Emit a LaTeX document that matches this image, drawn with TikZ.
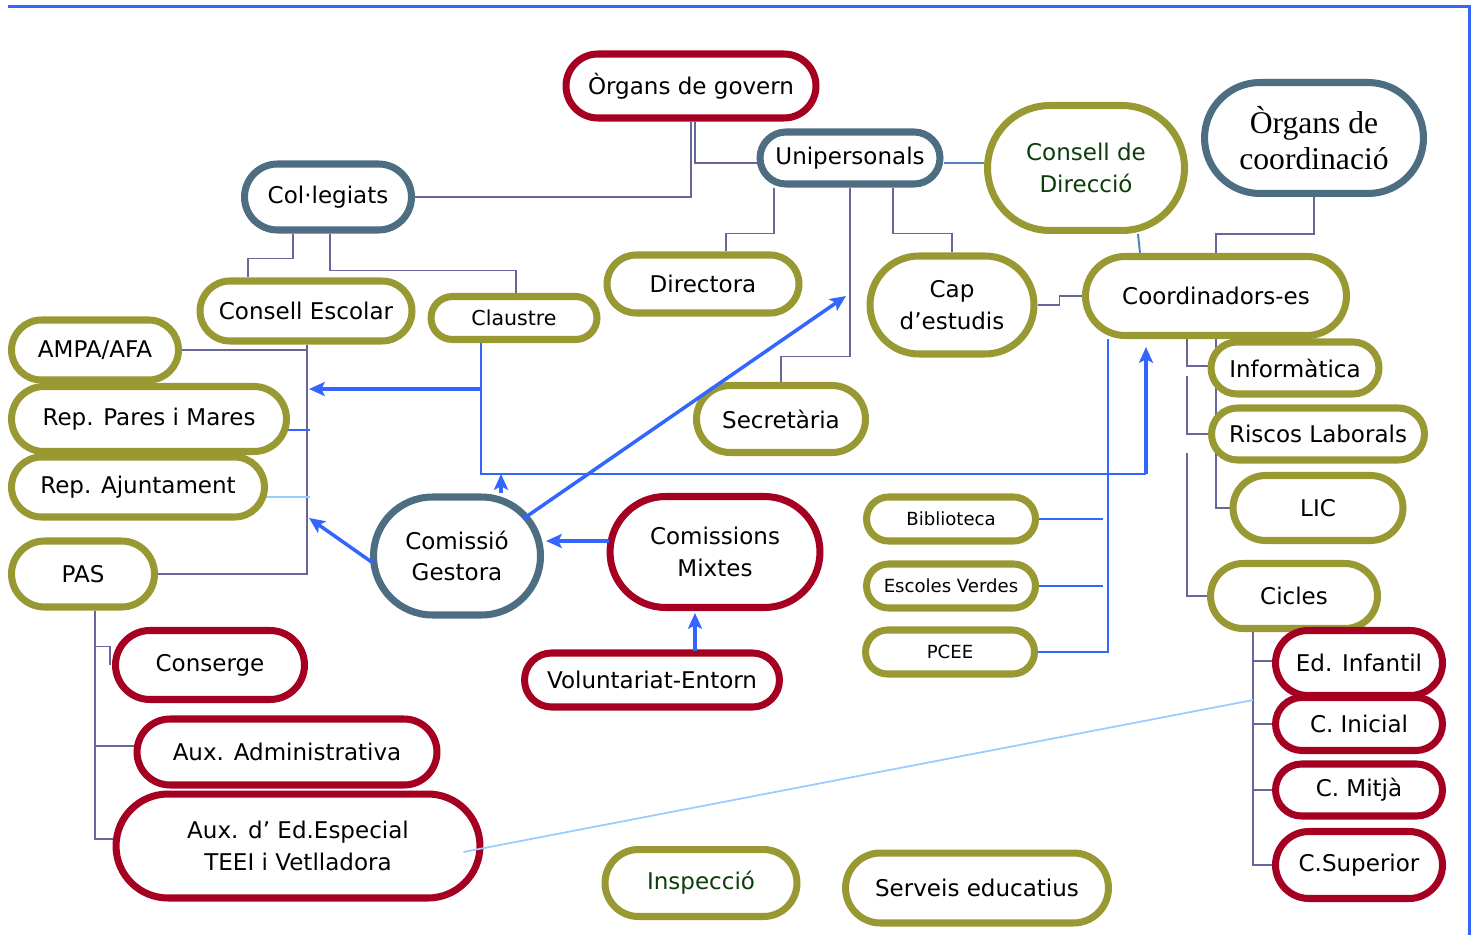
\documentclass[tikz,border=0pt]{standalone}
\usepackage{fontspec}
\setmainfont{DejaVu Sans}
\newfontfamily\serifface{Liberation Serif}
\usetikzlibrary{shapes.misc,arrows.meta,calc,backgrounds}

\definecolor{govred}{HTML}{A50021}
\definecolor{govolive}{HTML}{999933}
\definecolor{govslate}{HTML}{4D6D83}
\definecolor{linkgray}{HTML}{666699}
\definecolor{linkblue}{HTML}{3366FF}
\definecolor{linksky}{HTML}{99CCFF}
\definecolor{linksteel}{HTML}{4F81BD}
\definecolor{textgreen}{HTML}{0B3D0B}

\tikzset{
  orgbox/.style={rounded rectangle, line width=4pt, fill=white, inner sep=0pt, align=center,
    font=\fontsize{13.1}{17.8}\selectfont},
  redbox/.style={orgbox, draw=govred},
  olivebox/.style={orgbox, draw=govolive},
  slatebox/.style={orgbox, draw=govslate},
  smalltext/.style={font=\fontsize{10.3}{12}\selectfont},
  tree/.style={draw=linkgray, line width=1.1pt},
  bluelink/.style={draw=linkblue, line width=1.2pt},
  skylink/.style={draw=linksky, line width=1pt},
  steellink/.style={draw=linksteel, line width=1.1pt},
  bluearrow/.style={draw=linkblue, line width=2pt, -{Stealth[length=9pt,width=8pt,inset=2pt]}}
}

\begin{document}
\begin{tikzpicture}[x=0.02cm,y=-0.02cm]
  \useasboundingbox (0,0) rectangle (1476,935);
  \draw[linkblue, line width=1.7pt] (8,7) -- (1469,7) -- (1469,935); % frame

  % organs de govern
  \node[redbox, minimum width=5.00cm, minimum height=1.28cm] (govern) at (691,86) {Òrgans de govern};
  \node[slatebox, minimum width=3.60cm, minimum height=1.04cm] (unip) at (850,158) {Unipersonals};
  \node[slatebox, minimum width=3.34cm, minimum height=1.32cm] (colleg) at (328,197) {Col·legiats};
  \node[olivebox, minimum width=3.94cm, minimum height=2.50cm, text=textgreen] (cdir) at (1086,168) {Consell de\\Direcció};
  \node[slatebox, minimum width=4.38cm, minimum height=2.22cm, font=\serifface\fontsize{18}{20.5}\selectfont] (ocoord) at (1314,138) {Òrgans de\\coordinació};

  \node[olivebox, minimum width=4.24cm, minimum height=1.20cm] (cesc) at (306,311) {Consell Escolar};
  \node[olivebox, minimum width=3.32cm, minimum height=0.86cm, font=\fontsize{11.7}{14}\selectfont] (claus) at (514,318) {Claustre};
  \node[olivebox, minimum width=3.84cm, minimum height=1.16cm] (direc) at (703,284) {Directora};
  \node[olivebox, minimum width=3.28cm, minimum height=1.96cm] (cap) at (952,305) {Cap\\d’estudis};
  \node[olivebox, minimum width=5.22cm, minimum height=1.58cm] (coord) at (1216,296) {Coordinadors-es};
  \node[olivebox, minimum width=3.38cm, minimum height=1.34cm] (secr) at (781,419) {Secretària};

  % consell escolar
  \node[olivebox, minimum width=3.34cm, minimum height=1.20cm] (ampa) at (95,350) {AMPA/AFA};
  \node[olivebox, minimum width=5.50cm, minimum height=1.30cm] (pares) at (149,419) {Rep. Pares i Mares};
  \node[olivebox, minimum width=5.06cm, minimum height=1.20cm] (ajunt) at (138,487) {Rep. Ajuntament};
  \node[olivebox, minimum width=2.86cm, minimum height=1.32cm] (pas) at (83,574) {PAS};

  % comissions
  \node[slatebox, minimum width=3.34cm, minimum height=2.36cm] (gest) at (457,556) {Comissió\\Gestora};
  \node[redbox, minimum width=4.20cm, minimum height=2.22cm] (mixt) at (715,552) {Comissions\\Mixtes};
  \node[redbox, minimum width=5.10cm, minimum height=1.08cm] (volunt) at (652,680) {Voluntariat-Entorn};

  % coordinacio
  \node[olivebox, smalltext, minimum width=3.38cm, minimum height=0.88cm] (bibl) at (951,519) {Biblioteca};
  \node[olivebox, smalltext, minimum width=3.38cm, minimum height=0.88cm] (escol) at (951,586) {Escoles Verdes};
  \node[olivebox, smalltext, minimum width=3.38cm, minimum height=0.88cm] (pcee) at (950,652) {PCEE};
  \node[olivebox, minimum width=3.36cm, minimum height=1.04cm] (info) at (1295,368) {Informàtica};
  \node[olivebox, minimum width=4.26cm, minimum height=1.04cm] (risc) at (1318,434) {Riscos Laborals};
  \node[olivebox, minimum width=3.40cm, minimum height=1.30cm] (lic) at (1318,508) {LIC};
  \node[olivebox, minimum width=3.34cm, minimum height=1.30cm] (cicl) at (1294,596) {Cicles};
  \node[redbox, minimum width=3.34cm, minimum height=1.30cm] (edinf) at (1359,663) {Ed. Infantil};
  \node[redbox, minimum width=3.34cm, minimum height=1.06cm] (cinic) at (1359,724) {C. Inicial};
  \node[redbox, minimum width=3.34cm, minimum height=1.04cm] (cmitja) at (1359,790) {C. Mitjà};
  \node[redbox, minimum width=3.34cm, minimum height=1.34cm] (csup) at (1359,865) {C.Superior};

  % PAS
  \node[redbox, minimum width=3.78cm, minimum height=1.38cm] (conse) at (210,665) {Conserge};
  \node[redbox, minimum width=6.00cm, minimum height=1.32cm] (auxadm) at (287,752) {Aux. Administrativa};
  \node[redbox, minimum width=7.28cm, minimum height=2.08cm] (auxed) at (298,846) {Aux. d’ Ed.Especial\\TEEI i Vetlladora};

  \node[olivebox, minimum width=3.84cm, minimum height=1.34cm, text=textgreen] (insp) at (701,883) {Inspecció};
  \node[olivebox, minimum width=5.26cm, minimum height=1.40cm] (serv) at (977,888) {Serveis educatius};

  % helper points
  \coordinate (ce) at ($(cesc.south)+(1,0)$);
  \coordinate (clt) at ($(claus.south)+(-33,0)$);
  \coordinate (cl) at ($(clt)+(0,46)$);
  \coordinate (loop) at (1146,474);
  \coordinate (ct) at ($(coord.south)+(-108,0)$);
  \coordinate (cs) at ($(coord.south)+(-29,0)$);
  \coordinate (cc) at ($(cicl.south)+(-41,0)$);
  \coordinate (pt) at ($(pas.south)+(12,0)$);
  \coordinate (pr) at ($(pares.east)+(-3,11)$);
  \coordinate (aj) at ($(ajunt.east)+(-3,10)$);
  \coordinate (gu) at ($(gest.north)+(44,0)$);
  \coordinate (gd) at ($(gest.center)+(66,-37)$);
  \coordinate (gl) at ($(gest.west)+(3,7)$);
  \coordinate (diagtip) at (846,296);

  \begin{scope}[on background layer]
    \draw[tree] (govern.south) |- (colleg.east);
    \draw[tree] ($(govern.south)+(4,0)$) |- ($(unip.west)+(0,5)$);
    \draw[tree] ($(unip.south)+(-76,0)$) -- ++(0,46) -| ($(direc.north)+(23,0)$);
    \draw[tree] (unip.south) -- ++(0,169) -| (secr.north);
    \draw[tree] ($(unip.south)+(43,0)$) -- ++(0,46) -| (cap.north);
    \draw[steellink] ($(unip.east)+(0,5)$) -- ($(cdir.west)+(0,-5)$);
    \draw[steellink] ($(cdir.south)+(52,0)$) -- ($(coord.north)+(-76,0)$);
    \draw[tree] (ocoord.south) -- ++(0,37) -| (coord.north);
    \draw[tree] (cap.east) -- ++(22,0) |- (coord.west);

    \draw[tree] ($(colleg.south)+(-35,0)$) -- ++(0,25) -| ($(cesc.north)+(-58,0)$);
    \draw[tree] ($(colleg.south)+(2,0)$) -- ++(0,37) -| ($(claus.north)+(2,0)$);
    \draw[tree] (ce) |- (pas.east);
    \draw[tree] (ampa.east) -- (ampa.east -| ce);
    \draw[bluelink] (pr) -- ($(pr -| ce)+(3,0)$);
    \draw[skylink] (aj) -- ($(aj -| ce)+(3,0)$);

    \draw[bluelink] (clt) |- (loop);
    \draw[bluelink] (ct) |- (pcee.east);
    \draw[bluelink] (bibl.east) -- ($(bibl.east -| ct)+(-5,0)$);
    \draw[bluelink] (escol.east) -- ($(escol.east -| ct)+(-5,0)$);

    \draw[tree] (cs) |- ($(info.west)+(0,-2)$);
    \draw[tree] ($(cs)+(0,37)$) |- (risc.west);
    \draw[tree] ($(cs)+(0,114)$) |- (cicl.west);
    \draw[tree] (coord.south) |- (lic.west);

    \draw[tree] (cc) |- ($(edinf.west)+(0,-2)$);
    \draw[tree] (cc) |- (cinic.west);
    \draw[tree] (cc) |- (cmitja.west);
    \draw[tree] (cc) |- (csup.west);

    \draw[tree] (pt) |- ($(auxed.west)+(0,-7)$);
    \draw[tree] ($(pt)+(0,36)$) -| ($(conse.west)+(-2,0)$);
    \draw[tree] (pt) |- ($(auxadm.west)+(0,-6)$);
  \end{scope}

  \draw[skylink] ($(auxed.east)+(-20,6)$) -- ($(cc)+(0,68)$);

  % arrows
  \draw[bluearrow] (loop) -- ($(coord.south)+(-70,8)$);
  \draw[bluearrow] (cl) -- ($(cl -| ce)+(2,0)$);
  \draw[bluearrow] (gu) -- (gu |- loop);
  \draw[bluearrow] (gd) -- (diagtip);
  \draw[bluearrow] (gl) -- ($(gl -| ce)+(2,-45)$);
  \draw[bluearrow] ($(mixt.west)+(2,-11)$) -- ($(gest.east)+(2,-15)$);
  \draw[bluearrow] ($(volunt.north)+(43,2)$) -- ($(mixt.south)+(-20,2)$);
\end{tikzpicture}
\end{document}
